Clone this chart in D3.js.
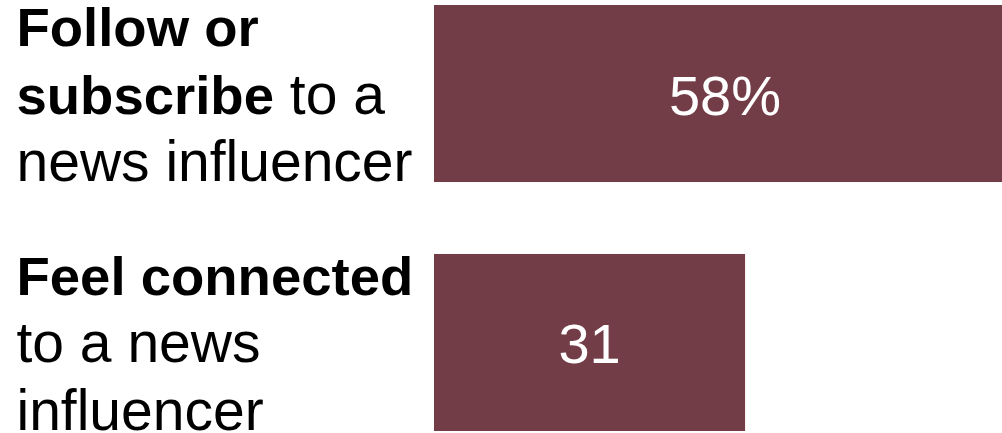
<!DOCTYPE html>
<html>
<head>
<meta charset="utf-8">
<script src="https://cdn.jsdelivr.net/npm/d3@7"></script>
<style>
  html, body { margin: 0; padding: 0; background: #fff; }
  svg { display: block; }
</style>
</head>
<body>
<svg id="chart" width="1002" height="433"></svg>
<script>
// Share of news consumers who ...
const categories = ["follow", "connected"];
const values = [58, 31];
const valueLabels = ["58%", "31"];
// Each category label as lines of [text, isBold] runs
const labelLines = [
  [[["Follow or", true]], [["subscribe", true], [" to a", false]], [["news influencer", false]]],
  [[["Feel connected", true]], [["to a news", false]], [["influencer", false]]]
];

const svg = d3.select("#chart");

const x = d3.scaleLinear().domain([0, 58]).range([434, 1016]);
const y = d3.scaleBand().domain(categories).range([5, 431]).paddingInner(0.289).paddingOuter(0);

const barColor = "#733d47";

// Bars
svg.selectAll("rect.bar")
  .data(categories)
  .join("rect")
  .attr("class", "bar")
  .attr("x", x(0))
  .attr("y", d => y(d))
  .attr("width", (d, i) => x(values[i]) - x(0))
  .attr("height", y.bandwidth())
  .attr("fill", barColor);

// Value labels centred in each bar
svg.selectAll("text.val")
  .data(categories)
  .join("text")
  .attr("class", "val")
  .attr("x", (d, i) => (x(0) + x(values[i])) / 2)
  .attr("y", d => y(d) + y.bandwidth() / 2 + 21)
  .attr("text-anchor", "middle")
  .attr("font-family", "Liberation Sans, Arial, sans-serif")
  .attr("font-size", 56)
  .attr("fill", "#ffffff")
  .text((d, i) => valueLabels[i]);

// Category labels, left side, mixed bold / regular
const lineHeight = 67.5;
categories.forEach((c, i) => {
  const cy = y(c) + y.bandwidth() / 2;
  const t = svg.append("text")
    .attr("font-family", "Liberation Sans, Arial, sans-serif")
    .attr("fill", "#000");
  labelLines[i].forEach((runs, li) => {
    runs.forEach(([txt, bold], ri) => {
      const ts = t.append("tspan")
        .attr("font-weight", bold ? "bold" : "normal")
        .attr("font-size", bold ? 54.5 : 57)
        .style("white-space", "pre")
        .text(txt);
      if (ri === 0) {
        ts.attr("x", 16.5).attr("y", cy - 47.5 + li * lineHeight);
      }
    });
  });
});
</script>
</body>
</html>
